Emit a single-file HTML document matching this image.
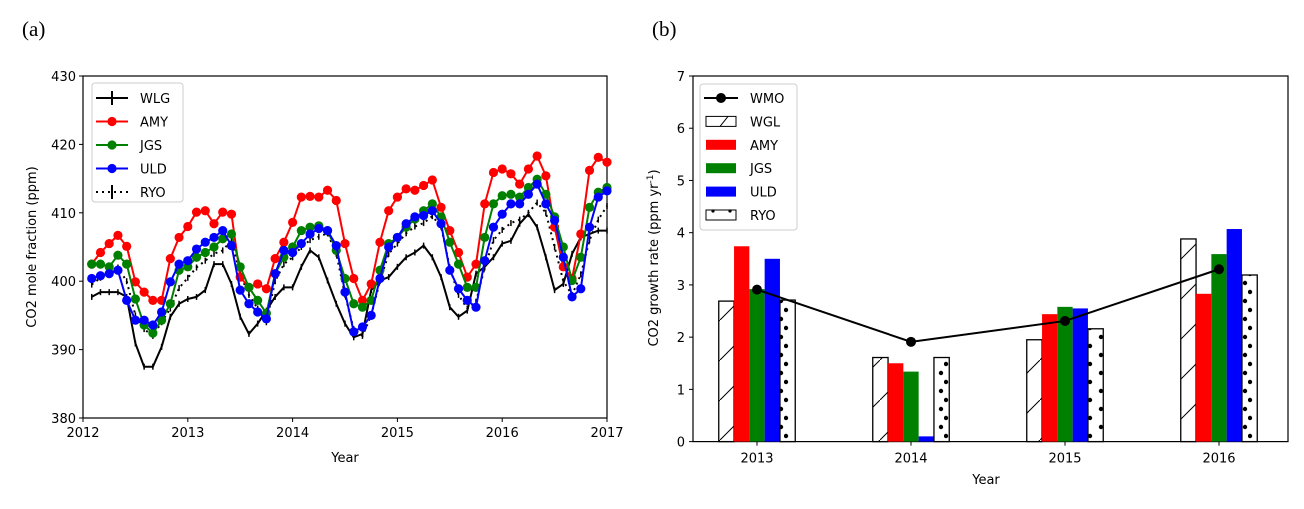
<!DOCTYPE html>
<html><head><meta charset="utf-8"><style>
html,body{margin:0;padding:0;background:#fff;}
svg text{font-family:"DejaVu Sans","Liberation Sans",sans-serif;}
</style></head><body>
<svg id="fig" width="1304" height="504" viewBox="0 0 1304 504" xmlns="http://www.w3.org/2000/svg">
<defs>
<pattern id="hatch" patternUnits="userSpaceOnUse" width="40" height="40" patternTransform="translate(0,0)">
<line x1="0" y1="40" x2="40" y2="0" stroke="#000" stroke-width="1"/>
</pattern>
<pattern id="dots" patternUnits="userSpaceOnUse" width="16" height="18">
<circle cx="2" cy="4" r="2.2" fill="#000"/><circle cx="13" cy="13" r="2.2" fill="#000"/>
</pattern>
</defs>
<text x="22" y="36" font-size="21" style="font-family:'Liberation Serif',serif">(a)</text>
<text x="652" y="36" font-size="21" style="font-family:'Liberation Serif',serif">(b)</text>
<g id="left"></g>
<g id="right"></g>
</svg>
<script>
const NS="http://www.w3.org/2000/svg";
function mk(tag,attrs,parent,txt){const e=document.createElementNS(NS,tag);for(const k in attrs)e.setAttribute(k,attrs[k]);if(txt!==undefined)e.textContent=txt;parent.appendChild(e);return e;}

// ---------- Panel (a) data ----------
const yearsA=[2012,2013,2014,2015,2016,2017];
const yTicksA=[380,390,400,410,420,430];
const amy=[402.5,404.2,405.5,406.7,405.1,399.9,398.4,397.2,397.2,403.3,406.4,408.0,410.1,410.3,408.4,410.1,409.8,400.6,399.1,399.6,398.9,403.3,405.7,408.6,412.3,412.4,412.3,413.3,411.8,405.5,400.4,397.2,399.6,405.7,410.3,412.3,413.5,413.3,414.0,414.8,410.8,407.4,404.2,400.6,402.5,411.3,415.9,416.4,415.7,414.2,416.4,418.3,415.4,407.9,402.1,400.4,406.9,416.2,418.1,417.4];
const jgs=[402.5,402.5,402.1,403.8,402.5,397.4,393.6,392.4,394.3,396.7,401.6,402.1,403.5,404.2,405.0,406.2,406.9,402.1,399.1,397.2,395.3,401.1,403.5,405.0,407.4,407.9,408.1,407.4,404.5,400.4,396.7,396.2,397.2,401.6,405.5,406.4,407.9,409.1,410.3,411.3,409.4,405.7,402.5,399.1,399.1,406.4,411.3,412.5,412.7,412.3,413.7,414.9,412.7,409.4,405.0,400.1,403.5,410.8,413.0,413.7];
const uld=[400.4,400.8,401.1,401.6,397.2,394.3,394.3,393.6,395.5,399.9,402.5,403.0,404.7,405.7,406.4,407.4,405.2,398.7,396.7,395.5,394.5,401.1,404.5,404.2,405.5,406.9,407.7,407.4,405.2,398.4,392.6,393.3,395.0,400.4,405.0,406.4,408.4,409.4,409.6,410.3,408.4,401.6,398.9,397.2,396.2,403.0,407.9,409.8,411.3,411.3,412.7,414.2,411.3,408.9,403.5,397.7,398.9,407.9,412.3,413.2];
const ryo=[399.5,400.5,401,402,400,395,393,392,394,396,399,400.5,402,403,404,404.5,406,401,398,396,394,400,402.5,403.5,405,406,406.5,407,404,398,393,392,395,400,404,405.5,407,408,408.5,409.5,408,402,398,396,397,402,406,407.5,408.5,409,410,411.5,410,405,400,398,401,406,409,411];
const wlg=[397.7,398.4,398.4,398.4,397.7,390.9,387.5,387.5,390.4,394.8,396.7,397.4,397.7,398.7,402.5,402.5,399.6,394.8,392.3,393.8,395.7,397.7,399.1,399.1,402.1,404.5,403.5,400.1,396.7,393.8,391.8,392.3,398.7,400.1,400.6,402.1,403.5,404.2,405.2,403.5,400.6,396.2,394.8,395.7,401.1,402.1,403.5,405.5,405.9,408.4,409.8,407.9,403.5,398.7,399.6,404.0,406.4,406.9,407.4,407.4];

// ---------- Panel (b) data ----------
const yearsB=["2013","2014","2015","2016"];
const yTicksB=[0,1,2,3,4,5,6,7];
const wmo=[2.91,1.91,2.31,3.30];
const wglB=[2.69,1.61,1.95,3.88];
const amyB=[3.74,1.50,2.44,2.83];
const jgsB=[2.92,1.34,2.58,3.59];
const uldB=[3.50,0.10,2.55,4.07];
const ryoB=[2.71,1.61,2.16,3.19];

// ---------- Panel (a) drawing ----------
const L=document.getElementById('left');
const aX0=83,aX1=607,aY0=418,aY1=76;
function xa(t){return aX0+(t-2012)/(2017-2012)*(aX1-aX0);}
function ya(v){return aY0-(v-380)/(430-380)*(aY0-aY1);}
function tMonth(i){return 2012+(i+1)/12;}
mk('rect',{x:aX0,y:aY1,width:aX1-aX0,height:aY0-aY1,fill:'none',stroke:'#000','stroke-width':1.2},L);
yearsA.forEach(y=>{const x=xa(y);
 mk('line',{x1:x,y1:aY0,x2:x,y2:aY0+4,stroke:'#000'},L);
 const t=mk('text',{x:x,y:aY0+19,'font-size':13,'text-anchor':'middle'},L,String(y));
 });
yTicksA.forEach(v=>{const y=ya(v);
 mk('line',{x1:aX0-4,y1:y,x2:aX0,y2:y,stroke:'#000'},L);
 const t=mk('text',{x:aX0-7,y:y+5,'font-size':13,'text-anchor':'end'},L,String(v));
 });
let t1=mk('text',{x:345,y:462,'font-size':13,'text-anchor':'middle'},L,'Year');

let t2=mk('text',{x:0,y:0,'font-size':13,'text-anchor':'middle',transform:'translate(36,247) rotate(-90)'},L,'CO2 mole fraction (ppm)');


function series(vals,color,dash,marker,name){
 const g=mk('g',{},L);
 
 
 const pts=vals.map((v,i)=>xa(tMonth(i)).toFixed(1)+','+ya(v).toFixed(1)).join(' ');
 const a={points:pts,fill:'none',stroke:color,'stroke-width':2};
 if(dash)a['stroke-dasharray']=dash;
 mk('polyline',a,g);
 vals.forEach((v,i)=>{const x=xa(tMonth(i)),y=ya(v);
  if(marker){mk('circle',{cx:x,cy:y,r:4.6,fill:color},g);}
  else{mk('line',{x1:x,y1:y-3,x2:x,y2:y+3,stroke:color,'stroke-width':1.5},g);}
 });
}
series(wlg,'#000',null,false,'wlg-series');
series(ryo,'#000','2,4',false,'ryo-series');
series(amy,'#f00',null,true,'amy-series');
series(jgs,'#008000',null,true,'jgs-series');
series(uld,'#00f',null,true,'uld-series');

// legend a
const lgA=mk('g',{},L);


mk('rect',{x:92,y:83,width:91,height:119,rx:3,fill:'#fff',stroke:'#ccc'},lgA);
const legA=[['WLG','#000',null,false],['AMY','#f00',null,true],['JGS','#008000',null,true],['ULD','#00f',null,true],['RYO','#000','2,4',false]];
legA.forEach((d,i)=>{const y=98+i*23.5;
 const e=mk('g',{},lgA);
 
 
 const la={x1:96,y1:y,x2:128,y2:y,stroke:d[1],'stroke-width':2};if(d[2])la['stroke-dasharray']=d[2];
 mk('line',la,e);
 if(d[3])mk('circle',{cx:112,cy:y,r:4.6,fill:d[1]},e);else mk('line',{x1:112,y1:y-7,x2:112,y2:y+7,stroke:d[1],'stroke-width':2},e);
 mk('text',{x:140,y:y+5,'font-size':13},e,d[0]);
});

// ---------- Panel (b) drawing ----------
const R=document.getElementById('right');
const bX0=693,bX1=1288,bY0=441.6,bY1=76;
const c0=757,cStep=154;
function xb(i){return c0+i*cStep;}
function yb(v){return bY0-v/7*(bY0-bY1);}
const bw=15.3;
let fr=mk('rect',{x:bX0,y:bY1,width:bX1-bX0,height:bY0-bY1,fill:'none',stroke:'#000','stroke-width':1.2},R);

function bars(vals,k,fill,name){
 vals.forEach((v,i)=>{const x=xb(i)+(k-2)*bw-bw/2,y=yb(v);
  const r=mk('rect',{x:x,y:y,width:bw,height:bY0-y,fill:fill,stroke:(fill.startsWith('url')?'#000':'none'),'stroke-width':1.3},R);
  
  
 });
}
bars(wglB,0,'url(#hatch)','wgl');
bars(amyB,1,'#f00','amy');
bars(jgsB,2,'#008000','jgs');
bars(uldB,3,'#00f','uld');
bars(ryoB,4,'url(#dots)','ryo');
const wl=mk('polyline',{points:wmo.map((v,i)=>xb(i)+','+yb(v)).join(' '),fill:'none',stroke:'#000','stroke-width':2},R);

wmo.forEach((v,i)=>{const c=mk('circle',{cx:xb(i),cy:yb(v),r:5,fill:'#000'},R);
 });
yearsB.forEach((y,i)=>{const x=xb(i);
 mk('line',{x1:x,y1:bY0,x2:x,y2:bY0+4,stroke:'#000'},R);
 const t=mk('text',{x:x,y:bY0+21,'font-size':13,'text-anchor':'middle'},R,y);
 });
yTicksB.forEach(v=>{const y=yb(v);
 mk('line',{x1:bX0-4,y1:y,x2:bX0,y2:y,stroke:'#000'},R);
 const t=mk('text',{x:bX0-8,y:y+5,'font-size':13,'text-anchor':'end'},R,String(v));
 });
let t3=mk('text',{x:986,y:484,'font-size':13,'text-anchor':'middle'},R,'Year');

let t4=mk('text',{x:0,y:0,'font-size':13,'text-anchor':'middle',transform:'translate(658,258) rotate(-90)'},R);

t4.appendChild(document.createTextNode('CO2 growth rate (ppm yr'));
mk('tspan',{dy:-5,'font-size':9},t4,'-1');
mk('tspan',{dy:5},t4,')');

// legend b
const lgB=mk('g',{},R);


mk('rect',{x:700,y:84,width:97,height:146,rx:3,fill:'#fff',stroke:'#ccc'},lgB);
const legB=['WMO','WGL','AMY','JGS','ULD','RYO'];
legB.forEach((n,i)=>{const y=98+i*23.4;
 const e=mk('g',{},lgB);
 
 
 if(i===0){mk('line',{x1:704,y1:y,x2:738,y2:y,stroke:'#000','stroke-width':2},e);mk('circle',{cx:721,cy:y,r:5,fill:'#000'},e);}
 else if(i===1){mk('rect',{x:706,y:y-5,width:30,height:10,fill:'#fff',stroke:'#000'},e);mk('line',{x1:720,y1:y+5,x2:728,y2:y-5,stroke:'#000'},e);}
 else if(i===5){mk('rect',{x:706,y:y-5,width:30,height:10,fill:'#fff',stroke:'#000'},e);mk('circle',{cx:713,cy:y-4,r:1.6,fill:'#000'},e);mk('circle',{cx:730,cy:y-4,r:1.6,fill:'#000'},e);}
 else{mk('rect',{x:706,y:y-5,width:30,height:10,fill:['','','#f00','#008000','#00f'][i]},e);}
 mk('text',{x:750,y:y+5,'font-size':13},e,n);
});
</script>
</body></html>
